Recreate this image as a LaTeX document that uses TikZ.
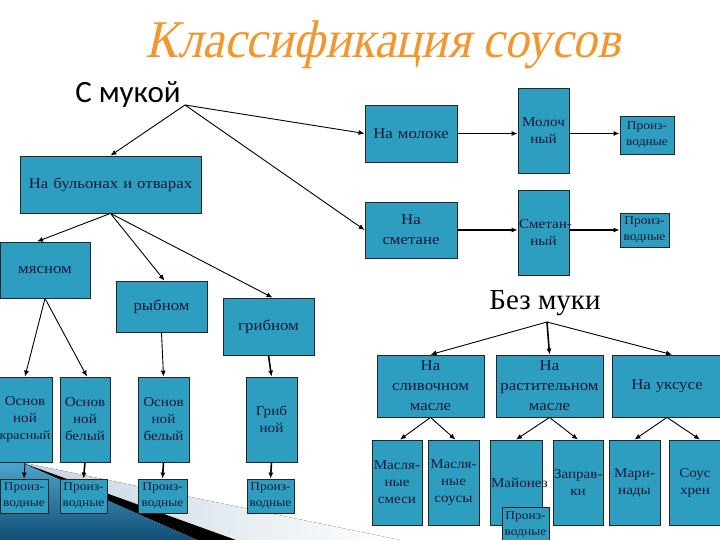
\documentclass[tikz,border=0pt]{standalone}
\usepackage{fontspec}
\setmainfont{Liberation Serif}
\newfontfamily\boxfont{Liberation Serif}[FakeStretch=1.12]
\newfontfamily\ttlfont{Liberation Serif}[FakeSlant=0.22,FakeStretch=0.92]
\newfontfamily\smkfont{Carlito}
\usetikzlibrary{arrows.meta}
\definecolor{boxblue}{RGB}{46,158,192}
\definecolor{boxtext}{RGB}{20,25,60}
\definecolor{titleor}{RGB}{242,150,45}
\definecolor{swdark}{RGB}{18,78,118}
\definecolor{swlight}{RGB}{80,170,210}
\definecolor{swgray}{RGB}{196,212,224}
\begin{document}
\begin{tikzpicture}[x=1pt,y=-1pt,
		sauce/.style={draw=black!85,line width=.8pt,fill=boxblue,text=boxtext,align=center,inner sep=1pt,font=\boxfont\fontsize{15}{20}\selectfont},
		wide/.style={sauce,text width=90pt,minimum height=57pt},
		tall/.style={sauce,text width=49pt,minimum height=85pt,font=\boxfont\fontsize{13.5}{17}\selectfont},
		deriv/.style={sauce,text width=46pt,minimum height=34pt,font=\boxfont\fontsize{12}{16}\selectfont},
		arr/.style={-{Latex[length=6pt,width=5pt]},line width=.9pt},
		arrb/.style={arr,line width=1.6pt}]
		\useasboundingbox (0,0) rectangle (720,540);
		\clip (0,0) rectangle (720,540);

		\fill[left color=swgray,right color=white] (20,462) -- (400,540) -- (200,540) -- cycle;
		\fill[black] (20,462) -- (236,540) -- (197,540) -- cycle;
		\shade[top color=swlight,bottom color=swdark] (0,458) -- (20,462) -- (197,540) -- (0,540) -- cycle;

		\node[text=titleor] (ttl) at (383,45) {\ttlfont\fontsize{53}{56}\selectfont Классификация соусов};

		\node (smktxt) at (128,95) {\smkfont\fontsize{31}{33}\selectfont С мукой};
		\coordinate (smk) at (185,105);
		\node (bmktxt) at (545,303) {\fontsize{29}{32}\selectfont Без муки};
		\coordinate (bmk) at (547,322);

		\node[sauce,text width=179pt,minimum height=57pt] (bul) at (110.5,184.5) {На бульонах и отварах};
		\node[sauce,text width=88pt,minimum height=56pt] (myas) at (45,270) {мясном};
		\node[sauce,text width=89pt,minimum height=51pt] (ryb) at (161.5,306.5) {рыбном};
		\node[sauce,text width=89pt,minimum height=57pt] (grib) at (268.5,326.5) {грибном};

		\node[tall,text width=52pt] (osk) at (25,419.5) {Основ\\ной\\{\fontsize{12.5}{17}\selectfont красный}};
		\node[tall,text width=48pt] (osb1) at (85,419.5) {Основ\\ной\\белый};
		\node[tall] (osb2) at (163.5,419.5) {Основ\\ной\\белый};
		\node[tall] (grn) at (271.5,419.5) {Гриб\\ной};

		\node[deriv] (pr1) at (24,496) {Произ-\\водные};
		\node[deriv,text width=45pt] (pr2) at (83.5,496) {Произ-\\водные};
		\node[deriv,text width=47pt] (pr3) at (162.5,496) {Произ-\\водные};
		\node[deriv,text width=45pt] (pr4) at (270.5,496) {Произ-\\водные};

		\node[wide] (mol) at (411,133.5) {На молоке};
		\node[tall] (molo) at (543.5,130.5) {Молоч\\ный};
		\node[deriv,text width=52pt,minimum height=38pt] (prm) at (647,135) {Произ-\\водные};
		\node[wide,minimum height=56pt] (smet) at (411,230) {На\\сметане};
		\node[tall] (smt) at (543.5,232.5) {\mbox{Сметан-}\\ный};
		\node[deriv,text width=47pt] (prs) at (644.5,230) {Произ-\\водные};

		\node[sauce,text width=105pt,minimum height=62pt] (sliv) at (430.5,386) {На\\сливочном\\масле};
		\node[sauce,text width=105pt,minimum height=62pt] (rast) at (549.5,386) {На\\растительном\\масле};
		\node[sauce,text width=108pt,minimum height=62pt] (uks) at (667,386) {На уксусе};

		\node[tall,text width=48pt] (ms1) at (397,482.5) {Масля-\\ные\\смеси};
		\node[tall] (ms2) at (453.5,482.5) {Масля-\\ные\\соусы};
		\node[tall,text width=50pt] (may) at (516,482.5) {Майонез};
		\node[tall,text width=48pt] (zap) at (578,482.5) {\mbox{Заправ-}\\ки};
		\node[tall] (mar) at (634.5,482.5) {Мари-\\нады};
		\node[tall,text width=50pt] (hren) at (695,482.5) {Соус\\хрен};
		\node[deriv,text width=45pt,minimum height=36pt] (prmay) at (525.5,525) {Произ-\\водные};

		\draw[arr] (smk) -- (bul.north);
		\draw[arr] (smk) -- (mol.west);
		\draw[arr] (smk) -- (smet.west);
		\draw[arr] (bul.south) -- ([xshift=-8pt]myas.north);
		\draw[arr] (bul.south) -- ([xshift=3pt]ryb.north);
		\draw[arr] (bul.south) -- ([xshift=4pt]grib.north);
		\draw[arr] (myas.south) -- (osk.north);
		\draw[arr] (myas.south) -- ([xshift=2pt]osb1.north);
		\draw[arr] (ryb.south) -- (osb2.north);
		\draw[arrb] (grib.south) -- (grn.north);
		\draw[arr] (osk.south) -- (pr1.north);
		\draw[arrb] (osb1.south) -- (pr2.north);
		\draw[arrb] (osb2.south) -- (pr3.north);
		\draw[arrb] (grn.south) -- (pr4.north);

		\draw[arrb] (mol.east) -- (mol.east -| molo.west);
		\draw[arrb] (mol.east -| molo.east) -- (mol.east -| prm.west);
		\draw[arrb] (smet.east) -- (smet.east -| smt.west);
		\draw[arrb] (smet.east -| smt.east) -- (smet.east -| prs.west);

		\draw[arr] (bmk) -- (sliv.north);
		\draw[arrb] (bmk) -- (rast.north);
		\draw[arr] (bmk) -- ([xshift=5pt]uks.north);
		\draw[arr] (sliv.south) -- ([xshift=3pt]ms1.north);
		\draw[arr] (sliv.south) -- ([xshift=2pt]ms2.north);
		\draw[arr] (rast.south) -- (may.north);
		\draw[arr] (rast.south) -- (zap.north);
		\draw[arr] (uks.south) -- (mar.north);
		\draw[arr] (uks.south) -- ([xshift=5pt]hren.north);
	\end{tikzpicture}
\end{document}
